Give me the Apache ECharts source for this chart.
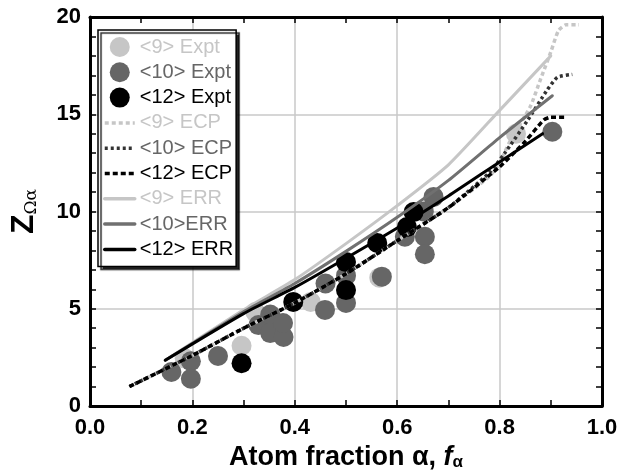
<!DOCTYPE html>
<html>
<head>
<meta charset="utf-8">
<script src="https://cdn.jsdelivr.net/npm/echarts@6/dist/echarts.min.js"></script>
<style>
  html, body { margin: 0; padding: 0; background: #fff; }
  #chart { width: 637px; height: 476px; }
</style>
</head>
<body>
<div id="chart"></div>
<script>
// 实验点 (atom fraction, Z)
const expt9 = [[0.185, 2.45], [0.296, 3.1], [0.323, 4.83], [0.431, 5.35], [0.565, 6.6], [0.832, 14.0]];
const expt10 = [[0.159, 1.75], [0.197, 2.3], [0.197, 1.4], [0.25, 2.57], [0.329, 4.16], [0.352, 4.7],
  [0.352, 3.75], [0.378, 3.55], [0.377, 4.27], [0.46, 6.3], [0.459, 4.94], [0.5, 6.7], [0.5, 5.3],
  [0.57, 6.65], [0.615, 8.7], [0.652, 10.0], [0.654, 8.7], [0.654, 7.8], [0.671, 10.75], [0.903, 14.1]];
const expt12 = [[0.296, 2.2], [0.397, 5.35], [0.5, 7.4], [0.5, 5.96], [0.561, 8.38], [0.619, 9.2], [0.632, 9.97]];

// ECP 曲线
const ecp9 = [[0.077, 1.0], [0.2, 2.6], [0.3, 4.0], [0.4, 5.3], [0.5, 6.8], [0.6, 8.5], [0.7, 10.2],
  [0.78, 11.8], [0.8, 12.5], [0.82, 13.6], [0.86, 15.4], [0.88, 16.8], [0.9, 18.2], [0.915, 19.3],
  [0.93, 19.6], [0.955, 19.6]];
const ecp10 = [[0.077, 1.0], [0.2, 2.6], [0.3, 4.0], [0.4, 5.3], [0.5, 6.8], [0.6, 8.5], [0.7, 10.2],
  [0.78, 12.0], [0.81, 13.0], [0.855, 14.7], [0.893, 16.25], [0.913, 16.9], [0.942, 17.05]];
const ecp12 = [[0.077, 1.0], [0.2, 2.6], [0.3, 4.0], [0.4, 5.3], [0.5, 6.8], [0.6, 8.5], [0.7, 10.2],
  [0.8, 12.3], [0.85, 13.6], [0.886, 14.7], [0.9, 14.85], [0.93, 14.85]];

// ERR 曲线
const err9 = [[0.147, 2.35], [0.3, 4.95], [0.4, 6.5], [0.5, 8.35], [0.6, 10.3], [0.7, 12.4], [0.8, 15.2], [0.9, 18.0]];
const err10 = [[0.147, 2.35], [0.3, 4.85], [0.4, 6.3], [0.5, 7.95], [0.6, 9.7], [0.7, 11.6], [0.8, 13.8], [0.903, 15.95]];
const err12 = [[0.147, 2.35], [0.3, 4.75], [0.4, 6.1], [0.5, 7.6], [0.6, 9.15], [0.7, 10.8], [0.8, 12.55], [0.884, 14.0]];

const LIGHT = '#c6c6c6'
const MID = '#666666'
const DARK = '#000000'
const FONT = 'Arial, "Liberation Sans", sans-serif'

const chart = echarts.init(document.getElementById('chart'), null, { renderer: 'canvas' });

function scatter(name, data, color) {
  return {
    name: name, type: 'scatter', data: data, symbol: 'circle', symbolSize: 20,
    itemStyle: { color: color, opacity: 1 }, z: 2
  }
}
function line(name, data, color, type, width) {
  return {
    name: name, type: 'line', data: data, symbol: 'none', smooth: 0.2,
    lineStyle: { color: color, width: width || 3, type: type, cap: type === 'solid' ? 'round' : 'butt' },
    itemStyle: { color: color }, z: 3
  }
}
// 图例里线条不要圆点
function lineItem(name, color) {
  return { name: name, textStyle: { color: color }, itemStyle: { opacity: 0 }, lineStyle: { width: 3.5 } }
}

const frameAxis = {
  axisLine: { show: true, onZero: false, lineStyle: { color: '#000', width: 3 } },
  axisTick: { show: true, inside: true, length: 6, lineStyle: { color: '#000', width: 1.5 } },
  minorTick: { show: true, length: 6, lineStyle: { color: '#000', width: 1.5 } }
}

const option = {
  backgroundColor: '#fff',
  animation: false,
  textStyle: { fontFamily: FONT },
  grid: { left: 85, right: 35, top: 17, bottom: 70 },
  legend: {
    orient: 'vertical', left: 98, top: 30,
    padding: [7, 3, 7, 5], itemGap: 5.3, itemWidth: 30, itemHeight: 20,
    backgroundColor: '#fff', borderColor: '#000', borderWidth: 1.5,
    shadowColor: 'rgba(0,0,0,0.85)', shadowOffsetX: 3, shadowOffsetY: 3, shadowBlur: 1,
    textStyle: { fontSize: 20, fontFamily: FONT },
    data: [
      { name: '<9> Expt', textStyle: { color: LIGHT } },
      { name: '<10> Expt', textStyle: { color: MID } },
      { name: '<12> Expt', textStyle: { color: DARK } },
      lineItem('<9> ECP', LIGHT),
      lineItem('<10> ECP', MID),
      lineItem('<12> ECP', DARK),
      lineItem('<9> ERR', LIGHT),
      lineItem('<10>ERR', MID),
      lineItem('<12> ERR', DARK)
    ]
  },
  xAxis: [
    Object.assign({}, frameAxis, {
      type: 'value', min: 0, max: 1, interval: 0.2, position: 'bottom',
      minorTick: Object.assign({}, frameAxis.minorTick, { splitNumber: 2 }),
      axisLabel: { formatter: v => v.toFixed(1), fontSize: 22, fontWeight: 'bold', color: '#000', margin: 11, fontFamily: FONT },
      splitLine: { show: true, lineStyle: { color: '#c8c8c8', width: 1.5 } },
      name: 'Atom fraction α, {i|f}{s|α}', nameLocation: 'middle', nameGap: 38,
      nameTextStyle: {
        fontSize: 27, fontWeight: 'bold', color: '#000', fontFamily: FONT,
        rich: {
          i: { fontSize: 27, fontWeight: 'bold', fontStyle: 'italic', color: '#000', fontFamily: FONT },
          s: { fontSize: 17, fontWeight: 'bold', color: '#000', verticalAlign: 'bottom', padding: [10, 0, 0, 0], fontFamily: FONT }
        }
      }
    }),
    Object.assign({}, frameAxis, {
      type: 'value', min: 0, max: 1, interval: 0.2, position: 'top',
      minorTick: Object.assign({}, frameAxis.minorTick, { splitNumber: 2 }),
      axisLabel: { show: false }, splitLine: { show: false }
    })
  ],
  yAxis: [
    Object.assign({}, frameAxis, {
      type: 'value', min: 0, max: 20, interval: 5, position: 'left',
      minorTick: Object.assign({}, frameAxis.minorTick, { splitNumber: 5 }),
      axisLabel: { fontSize: 22, fontWeight: 'bold', color: '#000', margin: 9, fontFamily: FONT },
      splitLine: { show: true, lineStyle: { color: '#c8c8c8', width: 1.5 } },
      name: '{z|Z}{s|Ωα}', nameLocation: 'middle', nameRotate: 90, nameGap: 50,
      nameTextStyle: {
        rich: {
          z: { fontSize: 32, fontWeight: 'bold', color: '#000', fontFamily: FONT },
          s: { fontSize: 17, color: '#000', verticalAlign: 'bottom', padding: [12, 0, 0, 0], fontFamily: 'DejaVu Serif, serif' }
        }
      }
    }),
    Object.assign({}, frameAxis, {
      type: 'value', min: 0, max: 20, interval: 5, position: 'right',
      minorTick: Object.assign({}, frameAxis.minorTick, { splitNumber: 5 }),
      axisLabel: { show: false }, splitLine: { show: false }
    })
  ],
  series: [
    scatter('<9> Expt', expt9, LIGHT),
    scatter('<10> Expt', expt10, MID),
    scatter('<12> Expt', expt12, DARK),
    line('<9> ECP', ecp9, LIGHT, [4, 3], 3.5),
    line('<10> ECP', ecp10, '#333333', [3, 3], 3.5),
    line('<12> ECP', ecp12, DARK, [5, 3], 3.5),
    line('<9> ERR', err9, LIGHT, 'solid'),
    line('<10>ERR', err10, '#707070', 'solid'),
    line('<12> ERR', err12, DARK, 'solid')
  ]
};

chart.setOption(option);
</script>
</body>
</html>
